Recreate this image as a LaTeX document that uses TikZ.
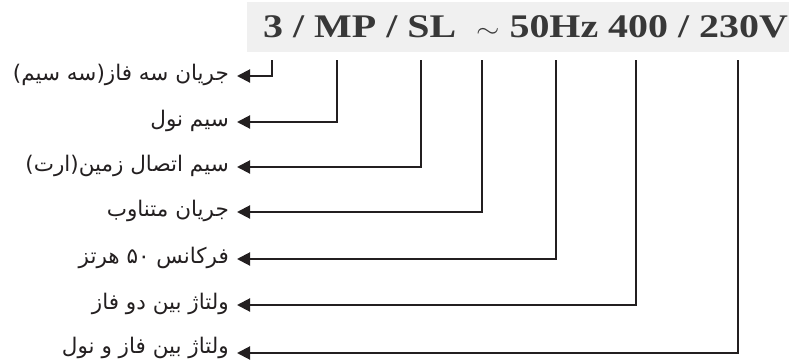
\documentclass[tikz,border=0pt]{standalone}
\usepackage{fontspec}
\usetikzlibrary{arrows.meta}
\TeXXeTstate=1
\newfontfamily\arabicfont[Script=Arabic]{DejaVu Sans}
\newfontfamily\hdrfont{Liberation Serif}
\definecolor{hdrbg}{HTML}{F0F0F0}
\definecolor{hdrtxt}{HTML}{383838}
\definecolor{ink}{HTML}{231F20}
\tikzset{
  lbl/.style={anchor=east, inner sep=0pt, text=ink, font=\arabicfont\fontsize{21.5}{24}\selectfont},
  conn/.style={draw=ink, line width=2pt, -{Triangle[length=13pt,width=13pt]}},
}
\begin{document}
\begin{tikzpicture}[x=1pt,y=-1pt]
\useasboundingbox (0,0) rectangle (789,359);
\fill[hdrbg] (247,2) rectangle (789,52);
\node[anchor=base west, inner sep=0pt, text=hdrtxt, font=\hdrfont\bfseries\fontsize{33}{36}\selectfont] (hdr) at (263,37)
  {\scalebox{1.21}[1]{3 / MP / SL \ $\sim$ 50Hz 400 / 230V}};
% top points of the connectors
\coordinate (t1) at (272,60);
\coordinate (t2) at (337,60);
\coordinate (t3) at (421,60);
\coordinate (t4) at (482,60);
\coordinate (t5) at (556,60);
\coordinate (t6) at (636,60);
\coordinate (t7) at (738,60);
% labels
\node[lbl] (l1) at (229,75) {\beginR جریان سه فاز(سه سیم)\endR};
\node[lbl] (l2) at (229,121) {\beginR سیم نول\endR};
\node[lbl] (l3) at (229,166) {\beginR سیم اتصال زمین(ارت)\endR};
\node[lbl] (l4) at (229,211) {\beginR جریان متناوب\endR};
\node[lbl] (l5) at (229,258) {\beginR فرکانس ۵۰ هرتز\endR};
\node[lbl] (l6) at (229,304) {\beginR ولتاژ بین دو فاز\endR};
\node[lbl] (l7) at (229,348) {\beginR ولتاژ بین فاز و نول\endR};
% connectors: from the header's tick points to the labels
\foreach \i/\y in {1/76,2/122,3/167,4/212,5/259,6/305,7/353}{
  \draw[conn] (t\i) |- ([xshift=8pt]l\i.east |- 0,\y);
}
\end{tikzpicture}
\end{document}
